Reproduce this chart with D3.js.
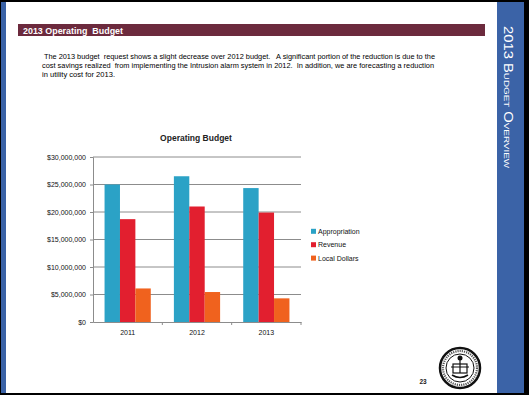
<!DOCTYPE html>
<html lang="en">
<head>
    <meta charset="UTF-8">
    <title>2013 Operating Budget</title>
    <script src="https://d3js.org/d3.v7.min.js"></script>
    <style>
        body { margin: 0; background: #fff; }
        svg text { font-family: "Liberation Sans", Arial, sans-serif; }
    </style>
</head>
<body>

    <svg id="slide" width="529" height="395"></svg>

    <script>
        // chart data
        const years = ["2011", "2012", "2013"];
        const seriesNames = ["Appropriation", "Revenue", "Local Dollars"];
        const appropriation = [25000000, 26500000, 24350000];
        const revenue = [18700000, 21000000, 19900000];
        const localDollars = [6100000, 5450000, 4300000];
        const yTicks = [0, 5000000, 10000000, 15000000, 20000000, 25000000, 30000000];

        const colors = ["#2ba2c6", "#e21f2f", "#f0621e"];

        const paragraph = [
            " The 2013 budget  request shows a slight decrease over 2012 budget.   A significant portion of the reduction is due to the",
            "cost savings realized  from implementing the Intrusion alarm system in 2012.  In addition, we are forecasting a reduction",
            "in utility cost for 2013."
        ];

        const svg = d3.select("#slide");

        // slide frame
        svg.append("rect").attr("width", 529).attr("height", 395).attr("fill", "#000");
        svg.append("rect").attr("x", 1).attr("y", 2).attr("width", 523).attr("height", 391).attr("fill", "#fff");
        svg.append("rect").attr("x", 1).attr("y", 2).attr("width", 5).attr("height", 391).attr("fill", "#3a62a6");
        svg.append("rect").attr("x", 497).attr("y", 2).attr("width", 27).attr("height", 391).attr("fill", "#3b63a7");

        // side title
        svg.append("text")
            .attr("transform", "translate(504,26) rotate(90)")
            .attr("fill", "#fff")
            .attr("font-size", 12)
            .style("font-variant", "small-caps")
            .attr("textLength", 142)
            .attr("lengthAdjust", "spacingAndGlyphs")
            .text("2013 Budget Overview");

        // header bar
        svg.append("rect").attr("x", 18).attr("y", 24).attr("width", 467).attr("height", 12).attr("fill", "#6c2a3d");
        svg.append("text")
            .attr("x", 23).attr("y", 33.5)
            .attr("fill", "#fff")
            .attr("font-size", 9.5)
            .attr("font-weight", "bold")
            .style("white-space", "pre")
            .attr("textLength", 100)
            .attr("lengthAdjust", "spacingAndGlyphs")
            .text("2013 Operating  Budget");

        // paragraph
        const paraWidths = [393, 392, 73];
        svg.selectAll(".para")
            .data(paragraph)
            .enter()
            .append("text")
            .attr("class", "para")
            .attr("x", 42)
            .attr("y", (d, i) => 58.5 + i * 9.3)
            .attr("font-size", 7.9)
            .attr("fill", "#000")
            .style("white-space", "pre")
            .attr("textLength", (d, i) => paraWidths[i])
            .attr("lengthAdjust", "spacingAndGlyphs")
            .text(d => d);

        // chart
        const plotLeft = 93, plotRight = 301, plotTop = 157, plotBottom = 322;

        const x0 = d3.scaleBand().domain(years).range([plotLeft, plotRight]);
        const bw = x0.bandwidth();
        const x1 = d3.scaleBand().domain(seriesNames).range([bw * 0.75 / 4.5, bw * 3.75 / 4.5]);
        const y = d3.scaleLinear().domain([0, 30000000]).range([plotBottom, plotTop]);

        svg.append("text")
            .attr("x", 196).attr("y", 141)
            .attr("text-anchor", "middle")
            .attr("font-size", 8.5)
            .attr("font-weight", "bold")
            .attr("fill", "#222")
            .text("Operating Budget");

        // gridlines
        svg.append("g")
            .selectAll("line")
            .data(yTicks.slice(1))
            .enter()
            .append("line")
            .attr("x1", plotLeft).attr("x2", plotRight)
            .attr("y1", d => y(d)).attr("y2", d => y(d))
            .attr("stroke", "#8c8c8c")
            .attr("stroke-width", 1);

        // bars
        const table = years.map((yr, i) => ({
            year: yr,
            values: [appropriation[i], revenue[i], localDollars[i]]
        }));

        const groups = svg.append("g")
            .selectAll("g")
            .data(table)
            .enter()
            .append("g")
            .attr("transform", d => `translate(${x0(d.year)},0)`);

        groups.selectAll("rect")
            .data(d => d.values.map((v, k) => ({ name: seriesNames[k], value: v, k: k })))
            .enter()
            .append("rect")
            .attr("x", d => x1(d.name))
            .attr("width", x1.bandwidth())
            .attr("y", d => y(d.value))
            .attr("height", d => plotBottom - y(d.value))
            .attr("fill", d => colors[d.k]);

        // y axis
        const yAxis = d3.axisLeft(y)
            .tickValues(yTicks)
            .tickSize(3)
            .tickPadding(4)
            .tickFormat(d => "$" + d3.format(",")(d));
        const gy = svg.append("g").attr("transform", `translate(${plotLeft},0)`).call(yAxis);
        gy.select(".domain").attr("stroke", "#8c8c8c");
        gy.selectAll(".tick line").attr("stroke", "#8c8c8c");
        gy.selectAll(".tick text")
            .attr("font-family", "Liberation Sans, Arial, sans-serif")
            .attr("font-size", 7)
            .attr("fill", "#111");

        // x axis
        const xAxis = d3.axisBottom(x0).tickSize(0).tickPadding(8);
        const gx = svg.append("g").attr("transform", `translate(0,${plotBottom})`).call(xAxis);
        gx.select(".domain").attr("stroke", "#8c8c8c");
        gx.selectAll(".tick text")
            .attr("font-family", "Liberation Sans, Arial, sans-serif")
            .attr("font-size", 7)
            .attr("fill", "#111");
        gx.selectAll(".boundary")
            .data(years)
            .enter()
            .append("line")
            .attr("class", "boundary")
            .attr("x1", d => x0(d) + bw).attr("x2", d => x0(d) + bw)
            .attr("y1", 0).attr("y2", 3)
            .attr("stroke", "#8c8c8c");

        // legend
        const legend = svg.append("g")
            .selectAll("g")
            .data(seriesNames)
            .enter()
            .append("g")
            .attr("transform", (d, i) => `translate(311,${231.3 + i * 13.4})`);
        legend.append("rect")
            .attr("x", 0).attr("y", -2.5)
            .attr("width", 5).attr("height", 5)
            .attr("fill", (d, i) => colors[i]);
        legend.append("text")
            .attr("x", 7).attr("y", 2.4)
            .attr("font-size", 7)
            .attr("fill", "#111")
            .text(d => d);

        // page number
        svg.append("text")
            .attr("x", 423).attr("y", 384)
            .attr("text-anchor", "middle")
            .attr("font-size", 6.5)
            .attr("font-weight", "bold")
            .attr("fill", "#222")
            .text("23");

        // county seal
        const seal = svg.append("g").attr("transform", "translate(460,368)");
        seal.append("circle").attr("r", 20).attr("fill", "#fff").attr("stroke", "#111").attr("stroke-width", 2.5);
        seal.append("circle").attr("r", 14).attr("fill", "none").attr("stroke", "#111").attr("stroke-width", 1);
        seal.append("circle").attr("r", 17).attr("fill", "none").attr("stroke", "#555").attr("stroke-width", 2.2).attr("stroke-dasharray", "1.2 1");
        seal.append("rect").attr("x", -7).attr("y", -4).attr("width", 14).attr("height", 9).attr("fill", "none").attr("stroke", "#111").attr("stroke-width", 1.2);
        seal.append("line").attr("x1", 0).attr("x2", 0).attr("y1", -11).attr("y2", 5).attr("stroke", "#111").attr("stroke-width", 1.2);
        seal.append("line").attr("x1", -9).attr("x2", 9).attr("y1", -1).attr("y2", -1).attr("stroke", "#111").attr("stroke-width", 1);
        seal.append("path").attr("d", "M-8,7 Q0,12 8,7").attr("fill", "none").attr("stroke", "#111").attr("stroke-width", 1.5);
        seal.append("circle").attr("cy", -10).attr("r", 2.5).attr("fill", "#111");
    </script>

</body>
</html>
